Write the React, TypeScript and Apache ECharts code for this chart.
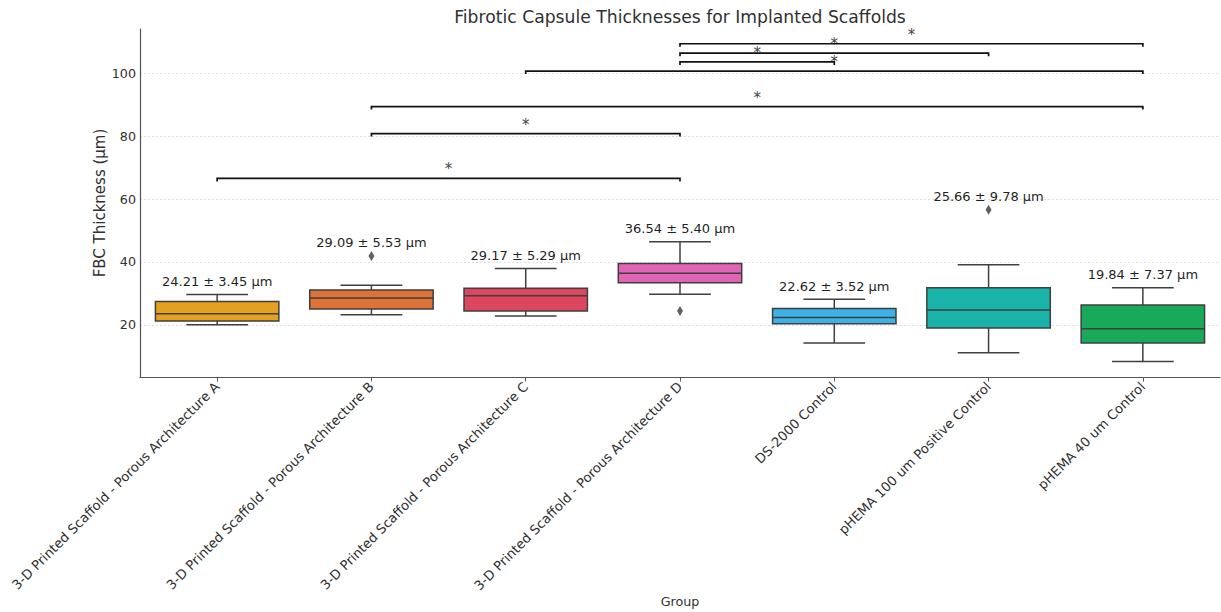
import React, { useEffect, useRef } from "react";
import * as echarts from "echarts";

const categories = [
  "3-D Printed Scaffold - Porous Architecture A",
  "3-D Printed Scaffold - Porous Architecture B",
  "3-D Printed Scaffold - Porous Architecture C",
  "3-D Printed Scaffold - Porous Architecture D",
  "DS-2000 Control",
  "pHEMA 100 um Positive Control",
  "pHEMA 40 um Control",
];
const lowerWhisker = [20.0, 23.2, 22.8, 29.7, 14.2, 11.1, 8.3];
const q1 = [21.2, 25.0, 24.4, 33.4, 20.3, 19.0, 14.2];
const median = [23.5, 28.5, 29.2, 36.4, 22.3, 24.7, 18.7];
const q3 = [27.4, 31.1, 31.6, 39.5, 25.2, 31.8, 26.3];
const upperWhisker = [29.6, 32.6, 37.9, 46.4, 28.1, 39.1, 31.8];
const outlierGroup = [1, 3, 5];
const outlierValue = [41.9, 24.4, 56.6];
const means = [24.21, 29.09, 29.17, 36.54, 22.62, 25.66, 19.84];
const sds = [3.45, 5.53, 5.29, 5.4, 3.52, 9.78, 7.37];
const bracketFrom = [0, 1, 1, 2, 3, 3, 3];
const bracketTo = [3, 3, 6, 6, 4, 5, 6];
const bracketHeight = [66.6, 80.9, 89.5, 100.8, 103.7, 106.5, 109.5];
const yTicks = [20, 40, 60, 80, 100];

const colors = ["#e3a11f", "#df7236", "#dc465f", "#e065b5", "#3cb2e8", "#1ab3a9", "#19a95a"];
const EDGE = "#3f3f3f";
const FONT = "DejaVu Sans";
const TEXT = "#303030";

export default function App() {
  const ref = useRef<HTMLDivElement>(null);
  useEffect(() => {
    if (!ref.current) return;
    const chart = echarts.init(ref.current, null, { renderer: "svg" });

    const boxData = categories.map((_, i) => {
      let top = upperWhisker[i];
      outlierGroup.forEach((g, k) => {
        if (g === i && outlierValue[k] > top) top = outlierValue[k];
      });
      return [i, lowerWhisker[i], q1[i], median[i], q3[i], upperWhisker[i], top];
    });
    const outlierData = outlierGroup.map((g, k) => [g, outlierValue[k]]);
    const bracketData = bracketFrom.map((f, k) => [f, bracketTo[k], bracketHeight[k]]);

    const option: any = {
      animation: false,
      textStyle: { fontFamily: FONT },
      grid: { left: 140, right: 1, top: 29, bottom: 234.5, containLabel: false, outerBoundsMode: "none" },
      graphic: [
        {
          type: "text",
          x: 680,
          y: 17,
          style: {
            text: "Fibrotic Capsule Thicknesses for Implanted Scaffolds",
            align: "center",
            verticalAlign: "middle",
            fontSize: 17.2,
            fontFamily: FONT,
            fill: TEXT,
          },
        },
        {
          type: "text",
          x: 680,
          y: 601,
          style: {
            text: "Group",
            align: "center",
            verticalAlign: "middle",
            fontSize: 12.7,
            fontFamily: FONT,
            fill: TEXT,
          },
        },
        {
          type: "text",
          x: 100,
          y: 203,
          rotation: Math.PI / 2,
          style: {
            text: "FBC Thickness (µm)",
            align: "center",
            verticalAlign: "middle",
            fontSize: 15,
            fontFamily: FONT,
            fill: TEXT,
          },
        },
      ],
      xAxis: {
        type: "category",
        data: categories,
        boundaryGap: true,
        axisLine: { show: true, lineStyle: { color: "#555", width: 1.2 } },
        axisTick: { show: true, alignWithLabel: true, length: 4, lineStyle: { color: "#555" } },
        axisLabel: { rotate: 45, fontSize: 13.2, color: TEXT, margin: 7, fontFamily: FONT, interval: 0 },
        splitLine: { show: false },
      },
      yAxis: {
        type: "value",
        min: 3.2,
        max: 114.2,
        axisLine: { show: true, lineStyle: { color: "#555", width: 1.2 } },
        axisTick: { show: false, customValues: yTicks },
        axisLabel: { customValues: yTicks, fontSize: 12.7, color: TEXT, margin: 4, fontFamily: FONT },
        splitLine: { show: true, lineStyle: { color: "#d4d4d4", type: [2, 2], width: 0.8 } },
      },
      series: [
        {
          type: "custom",
          data: boxData,
          encode: { x: 0, y: [1, 2, 3, 4, 5] },
          z: 3,
          renderItem: (params: any, api: any) => {
            const i = api.value(0);
            const pLw = api.coord([i, api.value(1)]);
            const pQ1 = api.coord([i, api.value(2)]);
            const pMed = api.coord([i, api.value(3)]);
            const pQ3 = api.coord([i, api.value(4)]);
            const pUw = api.coord([i, api.value(5)]);
            const pTop = api.coord([i, api.value(6)]);
            const band = api.size([1, 0])[0];
            const bw = band * 0.8;
            const cw = bw / 2;
            const x = pLw[0];
            const ls = { stroke: EDGE, lineWidth: 1.5 };
            return {
              type: "group",
              children: [
                { type: "line", shape: { x1: x, y1: pQ3[1], x2: x, y2: pUw[1] }, style: ls },
                { type: "line", shape: { x1: x, y1: pQ1[1], x2: x, y2: pLw[1] }, style: ls },
                { type: "line", shape: { x1: x - cw / 2, y1: pUw[1], x2: x + cw / 2, y2: pUw[1] }, style: ls },
                { type: "line", shape: { x1: x - cw / 2, y1: pLw[1], x2: x + cw / 2, y2: pLw[1] }, style: ls },
                {
                  type: "rect",
                  shape: { x: x - bw / 2, y: pQ3[1], width: bw, height: pQ1[1] - pQ3[1] },
                  style: { fill: colors[i], stroke: EDGE, lineWidth: 1.5 },
                },
                { type: "line", shape: { x1: x - bw / 2, y1: pMed[1], x2: x + bw / 2, y2: pMed[1] }, style: ls },
                {
                  type: "text",
                  x: x,
                  y: pTop[1] - 13,
                  style: {
                    text: `${means[i].toFixed(2)} ± ${sds[i].toFixed(2)} µm`,
                    align: "center",
                    verticalAlign: "middle",
                    fontSize: 13,
                    fontFamily: FONT,
                    fill: "#1f1f1f",
                  },
                },
              ],
            };
          },
        },
        {
          type: "scatter",
          data: outlierData,
          symbol: "diamond",
          symbolSize: [6, 10],
          itemStyle: { color: "#3a3a3a" },
          z: 4,
        },
        {
          type: "custom",
          data: bracketData,
          encode: { x: [0, 1], y: 2 },
          z: 5,
          renderItem: (params: any, api: any) => {
            const p1 = api.coord([api.value(0), api.value(2)]);
            const p2 = api.coord([api.value(1), api.value(2)]);
            return {
              type: "group",
              children: [
                {
                  type: "polyline",
                  shape: {
                    points: [
                      [p1[0], p1[1] + 3],
                      [p1[0], p1[1]],
                      [p2[0], p2[1]],
                      [p2[0], p2[1] + 3],
                    ],
                  },
                  style: { stroke: "#111", lineWidth: 1.7, fill: null },
                },
                {
                  type: "text",
                  x: (p1[0] + p2[0]) / 2,
                  y: p1[1] - 9,
                  style: {
                    text: "*",
                    align: "center",
                    verticalAlign: "middle",
                    fontSize: 15,
                    fontFamily: FONT,
                    fill: "#444",
                  },
                },
              ],
            };
          },
        },
      ],
    };
    chart.setOption(option);
    return () => chart.dispose();
  }, []);
  return (
    <div
      ref={ref}
      style={{ position: "fixed", left: 0, top: 0, width: 1221, height: 612, background: "#fff" }}
    />
  );
}
